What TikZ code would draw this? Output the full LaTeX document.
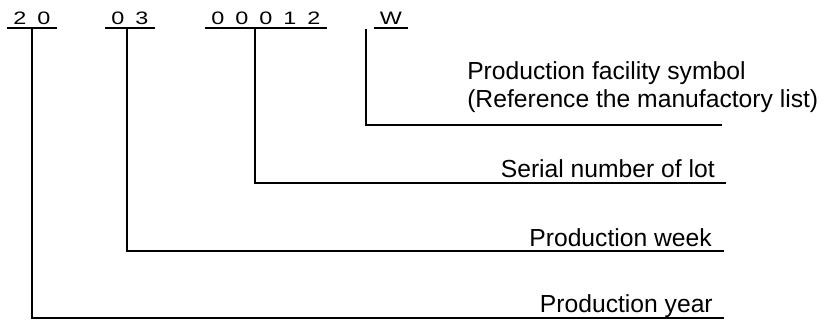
\documentclass[tikz,border=0pt]{standalone}
\usepackage{fontspec}
\setmainfont{Liberation Sans}
\newfontfamily\digits[FakeStretch=1.3]{Liberation Sans}
\newcommand{\gp}{\hspace{8.25pt}}
\tikzset{code/.style={anchor=base,inner xsep=4.5pt,inner ysep=0pt,font=\digits\fontsize{13.5}{16}\selectfont},
  lbl/.style={inner sep=0pt,font=\fontsize{18.5}{21}\selectfont},
  ln/.style={line width=1.3pt}}
\begin{document}
\begin{tikzpicture}[x=0.75pt,y=-0.75pt]
 \useasboundingbox (0,0) rectangle (833,320);
 \node[code] (yr) at (32,25) {2\gp0};
 \node[code] (wk) at (130,25) {0\gp3};
 \node[code] (lot) at (266,25) {0\gp0\gp0\gp1\gp2};
 \node[code] (fac) at (391,25) {W};
 \foreach \n in {yr,wk,lot,fac}
  \draw[ln] ([yshift=-2.25pt]\n.base west) -- ([yshift=-2.25pt]\n.base east);
 \coordinate (factop) at (366,29.5);
 \coordinate (facend) at (722,125);
 \coordinate (lotend) at (726,183);
 \coordinate (wkend) at (724,251);
 \coordinate (yrend) at (724,318);
 \draw[ln] (factop) |- (facend);
 \draw[ln] ([xshift=-8.25pt,yshift=-2.25pt]lot.base) |- (lotend);
 \draw[ln] ([xshift=-2.25pt,yshift=-2.25pt]wk.base) |- (wkend);
 \draw[ln] ([yshift=-2.25pt]yr.base) |- (yrend);
 \node[lbl,anchor=base west,align=left] (facl) at (467,108) {Production facility symbol\\(Reference the manufactory list)};
 \node[lbl,anchor=base east] (lotl) at (715,178) {Serial number of lot};
 \node[lbl,anchor=base east] (wkl) at (712,247) {Production week};
 \node[lbl,anchor=base east] (yrl) at (713,313) {Production year};
\end{tikzpicture}
\end{document}
